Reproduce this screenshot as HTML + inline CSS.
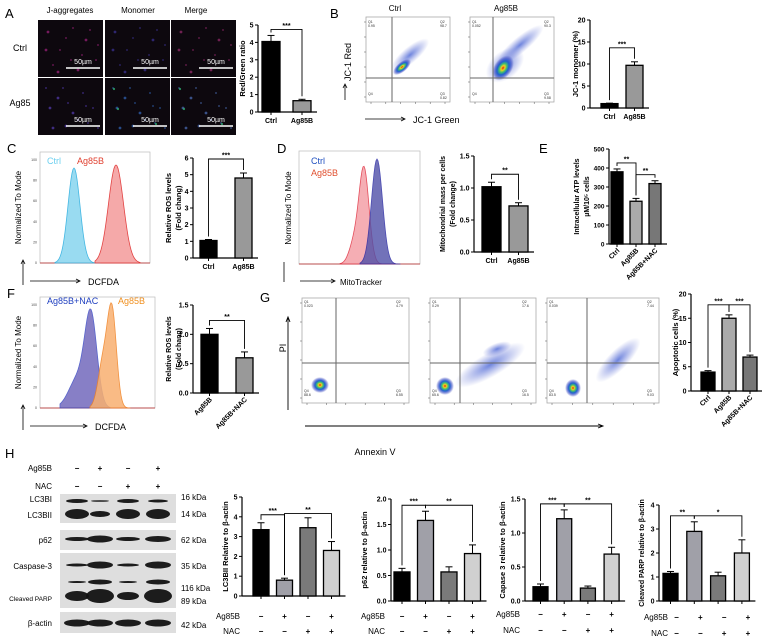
<!DOCTYPE html>
<html><head><meta charset="utf-8"><style>
html,body{margin:0;padding:0;background:#fff}
svg{display:block;font-family:"Liberation Sans",Arial,sans-serif}
</style></head><body>
<svg id="fig" width="762" height="640" viewBox="0 0 762 640" xmlns="http://www.w3.org/2000/svg">
<defs>
<radialGradient id="blobG" cx="50%" cy="50%" r="50%">
<stop offset="0" stop-color="#e02010"/><stop offset="0.18" stop-color="#f0d020"/><stop offset="0.35" stop-color="#40c070"/><stop offset="0.55" stop-color="#2060d0"/><stop offset="0.8" stop-color="#3040c0" stop-opacity="0.5"/><stop offset="1" stop-color="#4050c0" stop-opacity="0"/>
</radialGradient>
<radialGradient id="scatG" cx="50%" cy="50%" r="50%">
<stop offset="0" stop-color="#3050d0" stop-opacity="0.7"/><stop offset="1" stop-color="#5060d0" stop-opacity="0"/>
</radialGradient>
</defs>
<g id="root"></g>
</svg>
<script>
// ---------- data arrays ----------
const aCats=["Ctrl","Ag85B"], aVals=[4.05,0.65], aErrs=[0.35,0.08], aTicks=[0,1,2,3,4,5];
const bCats=["Ctrl","Ag85B"], bVals=[1.0,9.7], bErrs=[0.1,0.8], bTicks=[0,5,10,15,20];
const cCats=["Ctrl","Ag85B"], cVals=[1.05,4.8], cErrs=[0.06,0.3], cTicks=[0,1,2,3,4,5,6];
const dCats=["Ctrl","Ag85B"], dVals=[1.02,0.72], dErrs=[0.07,0.05], dTicks=[0,0.5,1.0,1.5];
const eCats=["Ctrl","Ag85B","Ag85B+NAC"], eVals=[380,225,318], eErrs=[15,15,15], eTicks=[0,100,200,300,400,500];
const fCats=["Ag85B","Ag85B+NAC"], fVals=[1.0,0.6], fErrs=[0.1,0.1], fTicks=[0,0.5,1.0,1.5];
const gCats=["Ctrl","Ag85B","Ag85B+NAC"], gVals=[3.9,15.0,7.0], gErrs=[0.3,0.7,0.4], gTicks=[0,5,10,15,20];
const h1Vals=[3.35,0.8,3.45,2.3], h1Errs=[0.35,0.1,0.5,0.45], h1Ticks=[0,1,2,3,4,5];
const h2Vals=[0.57,1.58,0.57,0.93], h2Errs=[0.07,0.18,0.1,0.17], h2Ticks=[0,0.5,1.0,1.5,2.0];
const h3Vals=[0.21,1.21,0.19,0.69], h3Errs=[0.04,0.13,0.03,0.1], h3Ticks=[0,0.5,1.0,1.5];
const h4Vals=[1.15,2.9,1.05,2.0], h4Errs=[0.08,0.4,0.15,0.55], h4Ticks=[0,1,2,3,4];
const hAg=["−","+","−","+"], hNac=["−","−","+","+"];

const NS="http://www.w3.org/2000/svg";
const root=document.getElementById('root');
function el(tag,attrs,parent,text){const e=document.createElementNS(NS,tag);for(const k in attrs)e.setAttribute(k,attrs[k]);if(text!==undefined)e.textContent=text;(parent||root).appendChild(e);return e;}
function txt(x,y,s,size,parent,extra){const t=el('text',Object.assign({x:x,y:y,'font-size':size,fill:'#000'},extra||{}),parent,s);return t;}
function grp(name){const g=el('g',{});return g;}

function barChart(o){
  const g=grp(o.name);
  const sy=v=>o.y0-(v/o.max)*(o.y0-o.yTop);
  const n=o.vals.length;
  const xEnd=o.x0+(n-1)*o.step+o.bw+6;
  el('line',{x1:o.ax,y1:o.y0,x2:o.ax,y2:o.yTop,stroke:'#000','stroke-width':1.2},g);
  el('line',{x1:o.ax,y1:o.y0,x2:xEnd,y2:o.y0,stroke:'#000','stroke-width':1.2},g);
  o.ticks.forEach(t=>{const y=sy(t);el('line',{x1:o.ax-3,y1:y,x2:o.ax,y2:y,stroke:'#000','stroke-width':1},g);
    txt(o.ax-4.5,y+2.5,o.fmt?o.fmt(t):String(t),o.tsize||7,g,{'text-anchor':'end','font-weight':'bold'});});
  o.vals.forEach((v,i)=>{
    const x=o.x0+i*o.step, cx=x+o.bw/2, yt=sy(v), ye=sy(v+o.errs[i]);
    const r=el('rect',{x:x,y:yt,width:o.bw,height:o.y0-yt,fill:o.colors[i],stroke:'#000','stroke-width':1.3},g);
    
    
    el('line',{x1:cx,y1:yt,x2:cx,y2:ye,stroke:'#000','stroke-width':1},g);
    el('line',{x1:cx-3.5,y1:ye,x2:cx+3.5,y2:ye,stroke:'#000','stroke-width':1},g);
    el('line',{x1:cx,y1:o.y0,x2:cx,y2:o.y0+3,stroke:'#000','stroke-width':1},g);
    if(o.cats){
      if(o.rot){txt(cx+3,o.y0+7,o.cats[i],7,g,{'text-anchor':'end','font-weight':'bold',transform:`rotate(-45 ${cx+3} ${o.y0+7})`});}
      else txt(cx,o.y0+11,o.cats[i],7,g,{'text-anchor':'middle','font-weight':'bold'});
    }
  });
  (o.sig||[]).forEach(s=>{
    const [i,j,lab,dy]=s;
    const ci=o.x0+i*o.step+o.bw/2, cj=o.x0+j*o.step+o.bw/2;
    const top=Math.min(sy(o.vals[i]+o.errs[i]),sy(o.vals[j]+o.errs[j]))-6-(dy||0);
    el('polyline',{points:`${ci},${sy(o.vals[i]+o.errs[i])-3} ${ci},${top} ${cj},${top} ${cj},${sy(o.vals[j]+o.errs[j])-3}`,fill:'none',stroke:'#000','stroke-width':0.9},g);
    txt((ci+cj)/2,top-1.5,lab,7,g,{'text-anchor':'middle','font-weight':'bold'});
  });
  if(o.ylab){
    const my=(o.y0+o.yTop)/2;
    o.ylab.forEach((l,k)=>{txt(o.ylx+k*10,my,l,o.ylsize||7.5,g,{'text-anchor':'middle','font-weight':'bold',transform:`rotate(-90 ${o.ylx+k*10} ${my})`});});
  }
  if(o.signs){
    const dx=o.signDx||0;
    o.signs.forEach((row,k)=>{
      const y=o.signY[k];
      txt(o.signLabelX,y,row[0],8,g,{'text-anchor':'end'});
      row[1].forEach((s,i)=>{txt(o.x0+i*o.step+o.bw/2+dx,y,s,8,g,{'text-anchor':'middle','font-weight':'bold'});});
    });
  }
  return g;
}

// panel letters
[["A",5,18],["B",330,18],["C",7,153],["D",277,153],["E",539,153],["F",7,298],["G",260,302],["H",5,458]].forEach(p=>{
  const t=txt(p[1],p[2],p[0],13,root,{});
});

// ---------- Panel A microscopy ----------
(function(){
  const g=grp('panel-a-images');
  txt(70,13,"J-aggregates",8,g,{'text-anchor':'middle'});
  txt(138,13,"Monomer",8,g,{'text-anchor':'middle'});
  txt(196,13,"Merge",8,g,{'text-anchor':'middle'});
  txt(20,51,"Ctrl",9,g,{'text-anchor':'middle'});
  txt(20,106,"Ag85",9,g,{'text-anchor':'middle'});
  const cols=[38,105,171], rows=[20,78];
  const dotsA=[[10,12],[22,30],[35,8],[48,20],[58,40],[15,45],[40,50],[28,18],[52,10],[8,30],[44,35],[60,25],[20,52],[33,40]];
  const dotsB=[[12,30],[25,10],[30,25],[35,35],[45,15],[50,45],[15,50],[40,42],[55,30],[20,20],[8,10],[60,50],[28,48],[48,28]];
  rows.forEach((ry,r)=>cols.forEach((cx,c)=>{
    el('rect',{x:cx,y:ry,width:65,height:57,fill:'#0d080e'},g);
    const pal = r==0 ? [['#9a2078','#3a3090','#902868'][c]] : [['#5038a8','#3060b0','#4868b0'][c]];
    (r==0?dotsA:dotsB).forEach((d,k)=>{
      el('circle',{cx:cx+d[0],cy:ry+d[1],r:(k%3==0?1.4:0.9),fill:pal[0],opacity:0.75},g);
      if(r==1&&c>0&&k%5==0) el('circle',{cx:cx+d[0]+1,cy:ry+d[1]+1,r:1.1,fill:'#30b070',opacity:0.8},g);
    });
    el('line',{x1:cx+28,y1:ry+48,x2:cx+62,y2:ry+48,stroke:'#fff','stroke-width':1.5},g);
    txt(cx+45,ry+44,"50µm",7,g,{'text-anchor':'middle',fill:'#fff'});
  }));
})();

barChart({name:'chart-a-red-green-ratio',ax:258,y0:112,yTop:25,max:5,ticks:aTicks,vals:aVals,errs:aErrs,cats:aCats,colors:['#000','#999'],x0:262,step:31,bw:18,sig:[[0,1,'***',0]],ylab:['Red/Green ratio'],ylx:245});

// ---------- flow cytometry helpers ----------
function flowPlot(name,x,y,w,h,vx,hy,blobs,qlabels){
  const g=grp(name);
  el('rect',{x:x,y:y,width:w,height:h,fill:'#fff',stroke:'#aaa','stroke-width':0.8},g);
  blobs.forEach(b=>{el('ellipse',{cx:b[0],cy:b[1],rx:b[2],ry:b[3],fill:b[5]||'url(#blobG)',transform:`rotate(${b[4]} ${b[0]} ${b[1]})`},g);});
  el('line',{x1:vx,y1:y,x2:vx,y2:y+h,stroke:'#666','stroke-width':1},g);
  el('line',{x1:x,y1:hy,x2:x+w,y2:hy,stroke:'#666','stroke-width':1},g);
  qlabels.forEach(q=>txt(q[0],q[1],q[2],3.5,g,{fill:'#333'}));
  for(let i=0;i<6;i++){el('line',{x1:x-2,y1:y+5+i*(h-10)/5,x2:x,y2:y+5+i*(h-10)/5,stroke:'#555','stroke-width':0.5},g);
    el('line',{x1:x+5+i*(w-10)/5,y1:y+h,x2:x+5+i*(w-10)/5,y2:y+h+2,stroke:'#555','stroke-width':0.5},g);}
  return g;
}
// Panel B
txt(395,11,"Ctrl",8,root,{'text-anchor':'middle'});
txt(506,11,"Ag85B",8,root,{'text-anchor':'middle'});
flowPlot('flow-b-ctrl',366,17,84,85,392,78,[[410,55,24,8,-40,'url(#scatG)'],[402,67,11,5,-40]],[[368,23,'Q1'],[368,27,'0.95'],[440,23,'Q2'],[440,27,'98.7'],[368,95,'Q4'],[440,95,'Q3'],[440,99,'0.82']]);
flowPlot('flow-b-ag85b',470,17,84,85,493,78,[[520,45,30,8,-40,'url(#scatG)'],[505,65,22,14,-40,'url(#scatG)'],[503,68,14,9,-55]],[[472,23,'Q1'],[472,27,'0.052'],[544,23,'Q2'],[544,27,'90.3'],[472,95,'Q4'],[544,95,'Q3'],[544,99,'9.58']]);
txt(351,62,"JC-1 Red",9,root,{'text-anchor':'middle',transform:'rotate(-90 351 62)'});
el('line',{x1:345,y1:100,x2:345,y2:85,stroke:'#000','stroke-width':0.8});el('polyline',{points:'343,88 345,84 347,88',fill:'none',stroke:'#000','stroke-width':0.8});
el('line',{x1:365,y1:119,x2:405,y2:119,stroke:'#000','stroke-width':0.8});el('polyline',{points:'401,117 405,119 401,121',fill:'none',stroke:'#000','stroke-width':0.8});
txt(413,123,"JC-1 Green",9,root,{});
barChart({name:'chart-b-jc1-monomer',ax:590,y0:108,yTop:20,max:20,ticks:bTicks,vals:bVals,errs:bErrs,cats:bCats,colors:['#000','#999'],x0:601,step:25,bw:17,sig:[[0,1,'***',8]],ylab:['JC-1 monomer (%)'],ylx:578});

// ---------- histogram helper ----------
function gaussPath(x0,x1,base,peaks){
  let d=`M${x0},${base}`;
  for(let x=x0;x<=x1;x+=1){let y=0;peaks.forEach(p=>{y+=p[2]*Math.exp(-Math.pow((x-p[0])/p[1],2)/2);});d+=` L${x},${base-y}`;}
  return d+` L${x1},${base} Z`;
}
function histAxes(name,x,top,w,base,xl,xlabX){
  const g=grp(name);
  el('rect',{x:x,y:top,width:w,height:base-top,fill:'none',stroke:'#bbb','stroke-width':0.7},g);
  el('line',{x1:x,y1:base,x2:x+w,y2:base,stroke:'#b02020','stroke-width':0.8},g);
  for(let i=0;i<6;i++){const yy=base-i*(base-top-8)/5;txt(x-3,yy+1,String(i*20),3.5,g,{'text-anchor':'end',fill:'#444'});}
  txt(21,(top+base)/2,"Normalized To Mode",8,g,{'text-anchor':'middle',transform:`rotate(-90 21 ${(top+base)/2})`});
  el('line',{x1:23,y1:base+22,x2:23,y2:base-2,stroke:'#000','stroke-width':0.8},g);
  el('polyline',{points:`21,${base+1} 23,${base-3} 25,${base+1}`,fill:'none',stroke:'#000','stroke-width':0.8},g);
  el('line',{x1:x-10,y1:base+18,x2:xlabX-8,y2:base+18,stroke:'#000','stroke-width':0.8},g);
  el('polyline',{points:`${xlabX-12},${base+16} ${xlabX-8},${base+18} ${xlabX-12},${base+20}`,fill:'none',stroke:'#000','stroke-width':0.8},g);
  txt(xlabX,base+22,xl,9,g,{});
  return g;
}
// Panel C
(function(){
  const g=histAxes('hist-c-dcfda',40,152,110,263,'DCFDA',88);
  el('path',{d:gaussPath(55,100,263,[[74,6,95]]),fill:'#8fd8f0',stroke:'#30b0e0','stroke-width':0.8,opacity:0.9},g);
  el('path',{d:gaussPath(95,140,263,[[116,7.5,98]]),fill:'#f4a0a0',stroke:'#e03030','stroke-width':0.8,opacity:0.9},g);
  txt(47,164,"Ctrl",9,g,{fill:'#6cd0f0'});txt(77,164,"Ag85B",9,g,{fill:'#e04030'});
})();
barChart({name:'chart-c-ros',ax:193,y0:258,yTop:158,max:6,ticks:cTicks,vals:cVals,errs:cErrs,cats:cCats,colors:['#000','#999'],x0:200,step:35,bw:17,sig:[[0,1,'***',8]],ylab:['Relative ROS levels','(Fold chang)'],ylx:171});
// Panel D
(function(){
  const g=grp('hist-d-mitotracker');
  const x=299,top=151,w=121,base=264;
  el('rect',{x:x,y:top,width:w,height:base-top,fill:'none',stroke:'#bbb','stroke-width':0.7},g);
  el('line',{x1:x,y1:base,x2:x+w,y2:base,stroke:'#b02020','stroke-width':0.8},g);
  el('path',{d:gaussPath(340,395,264,[[364,5,95],[354,5,20]]),fill:'#f4a0a8',stroke:'#e03040','stroke-width':0.8,opacity:0.85},g);
  el('path',{d:gaussPath(360,400,264,[[377,5.5,105]]),fill:'#5050a8',stroke:'#2020a0','stroke-width':0.8,opacity:0.8},g);
  txt(311,164,"Ctrl",9,g,{fill:'#2050c0'});txt(311,176,"Ag85B",9,g,{fill:'#e05030'});
  txt(291,208,"Normalized To Mode",8,g,{'text-anchor':'middle',transform:'rotate(-90 291 208)'});
  el('line',{x1:284,y1:282,x2:284,y2:262,stroke:'#000','stroke-width':0.8},g);
  el('line',{x1:300,y1:281,x2:335,y2:281,stroke:'#000','stroke-width':0.8},g);
  el('polyline',{points:'331,279 335,281 331,283',fill:'none',stroke:'#000','stroke-width':0.8},g);
  txt(340,285,"MitoTracker",8,g,{});
})();
barChart({name:'chart-d-mito-mass',ax:474,y0:252,yTop:156,max:1.5,ticks:dTicks,fmt:t=>t.toFixed(1),vals:dVals,errs:dErrs,cats:dCats,colors:['#000','#999'],x0:482,step:27,bw:19,sig:[[0,1,'**',2]],ylab:['Mitochondrial mass per cells','(Fold change)'],ylx:445,ylsize:7});
// Panel E
barChart({name:'chart-e-atp',ax:609,y0:244,yTop:149,max:500,ticks:eTicks,tsize:6.5,vals:eVals,errs:eErrs,cats:eCats,rot:true,colors:['#000','#aaa','#777'],x0:611,step:19,bw:12,sig:[[0,1,'**',0],[1,2,'**',0]],ylab:['Intracellular ATP levels','µM/10⁵ cells'],ylx:579,ylsize:7});
// Panel F
(function(){
  const g=histAxes('hist-f-dcfda',40,297,115,408,'DCFDA',95);
  el('path',{d:gaussPath(60,110,408,[[91,6,88],[78,9,30]]),fill:'#6a60b8',stroke:'#3040c0','stroke-width':0.8,opacity:0.8},g);
  el('path',{d:gaussPath(90,130,408,[[112,4.5,95],[103,5,45]]),fill:'#f8b070',stroke:'#f08020','stroke-width':0.8,opacity:0.85},g);
  txt(47,304,"Ag85B+NAC",9,g,{fill:'#2040c0'});txt(118,304,"Ag85B",9,g,{fill:'#f09020'});
})();
barChart({name:'chart-f-ros-nac',ax:193,y0:393,yTop:305,max:1.5,ticks:fTicks,fmt:t=>t.toFixed(1),vals:fVals,errs:fErrs,cats:fCats,rot:true,colors:['#000','#999'],x0:201,step:35,bw:17,sig:[[0,1,'**',2]],ylab:['Relative ROS levels','(Fold chang)'],ylx:171,ylsize:7});
// Panel G
flowPlot('flow-g-ctrl',302,298,107,105,336,363,[[320,385,9,8,0]],[[304,303,'Q1'],[304,307,'0.023'],[396,303,'Q2'],[396,307,'4.79'],[304,392,'Q4'],[304,396,'88.6'],[396,392,'Q3'],[396,396,'6.55']]);
flowPlot('flow-g-ag85b',430,298,106,105,460,363,[[490,365,40,12,-30,'url(#scatG)'],[497,349,15,6,-20,'url(#scatG)'],[445,386,9,9,0]],[[432,303,'Q1'],[432,307,'0.29'],[522,303,'Q2'],[522,307,'17.6'],[432,392,'Q4'],[432,396,'65.6'],[522,392,'Q3'],[522,396,'16.5']]);
flowPlot('flow-g-ag85b-nac',547,298,112,105,587,363,[[618,360,30,10,-45,'url(#scatG)'],[573,388,8,9,0]],[[549,303,'Q1'],[549,307,'0.039'],[647,303,'Q2'],[647,307,'7.44'],[549,392,'Q4'],[549,396,'83.5'],[647,392,'Q3'],[647,396,'9.03']]);
txt(286,348,"PI",9,root,{'text-anchor':'middle',transform:'rotate(-90 286 348)'});
el('line',{x1:288,y1:410,x2:288,y2:318,stroke:'#000','stroke-width':0.9});el('polyline',{points:'286,322 288,317 290,322',fill:'none',stroke:'#000','stroke-width':0.9});
el('line',{x1:305,y1:426,x2:603,y2:426,stroke:'#000','stroke-width':0.9});el('polyline',{points:'598,424 603,426 598,428',fill:'none',stroke:'#000','stroke-width':0.9});
txt(375,455,"Annexin V",9,root,{'text-anchor':'middle'});
barChart({name:'chart-g-apoptotic',ax:691,y0:391,yTop:294,max:20,ticks:gTicks,vals:gVals,errs:gErrs,cats:gCats,rot:true,colors:['#000','#aaa','#777'],x0:701,step:21,bw:14,sig:[[0,1,'***',4],[1,2,'***',4]],ylab:['Apoptotic cells (%)'],ylx:678});

// ---------- Panel H western blot ----------
(function(){
  const g=grp('western-blot');
  const lanes=[77,100,128,158];
  txt(52,471,"Ag85B",8,g,{'text-anchor':'end'});txt(52,489,"NAC",8,g,{'text-anchor':'end'});
  hAg.forEach((s,i)=>txt(lanes[i],471,s,8,g,{'text-anchor':'middle','font-weight':'bold'}));
  hNac.forEach((s,i)=>txt(lanes[i],489,s,8,g,{'text-anchor':'middle','font-weight':'bold'}));
  const boxes=[[494,523],[530,550],[553,577],[575,608],[612,633]];
  boxes.forEach(b=>el('rect',{x:60,y:b[0],width:116,height:b[1]-b[0],fill:'#dedede'},g));
  function band(y,ws,hs){lanes.forEach((lx,i)=>{if(ws[i]>0)el('ellipse',{cx:lx,cy:y,rx:ws[i],ry:hs[i],fill:'#111',opacity:0.95},g);});}
  band(501,[11,9,11,10],[2,0.8,2,1.5]);
  band(514,[12,10,12,12],[5,3,5,5]);
  band(539,[12,13,12,13],[2,3.5,2,3]);
  band(565,[11,13,11,13],[1.5,3.5,1.5,3.5]);
  band(582,[9,12,9,12],[1,2.5,1,2.5]);
  band(596,[12,14,11,14],[5,7,4,7]);
  band(623,[13,13,13,13],[3.5,3.5,3.5,3.5]);
  [["LC3BI",52,502],["LC3BII",52,518],["p62",52,543],["Caspase-3",52,569],["Cleaved PARP",52,601],["β-actin",52,626]].forEach(l=>txt(l[1],l[2],l[0],l[0]=="Cleaved PARP"?6.5:8,g,{'text-anchor':'end'}));
  [["16 kDa",500],["14 kDa",517],["62 kDa",543],["35 kDa",569],["116 kDa",591],["89 kDa",604],["42 kDa",628]].forEach(l=>txt(181,l[1],l[0],8,g,{}));
})();
const hCols=['#000','#a0a0a8','#7a7a7a','#d0d0d0'];
barChart({name:'chart-h-lc3bii',ax:242,y0:596,yTop:497,max:5,ticks:h1Ticks,vals:h1Vals,errs:h1Errs,colors:hCols,x0:253,step:23.5,bw:16,sig:[[0,1,'***',2],[1,3,'**',22]],ylab:['LC3BII Relative to β-actin'],ylx:228,signs:[['Ag85B',hAg],['NAC',hNac]],signY:[619,634],signLabelX:240});
barChart({name:'chart-h-p62',ax:391,y0:601,yTop:499,max:2,ticks:h2Ticks,fmt:t=>t.toFixed(1),vals:h2Vals,errs:h2Errs,colors:hCols,x0:394,step:23.5,bw:16,sig:[[0,1,'***',0],[1,3,'**',0]],ylab:['p62 relative to β-actin'],ylx:367,signs:[['Ag85B',hAg],['NAC',hNac]],signY:[619,634],signLabelX:385});
barChart({name:'chart-h-caspase3',ax:525,y0:601,yTop:499,max:1.5,ticks:h3Ticks,fmt:t=>t.toFixed(1),vals:h3Vals,errs:h3Errs,colors:hCols,x0:533,step:23.7,bw:15,sig:[[0,1,'***',0],[1,3,'**',0]],ylab:['Capase 3 relative to β-actin'],ylx:505,signs:[['Ag85B',hAg],['NAC',hNac]],signY:[617,633],signLabelX:520});
barChart({name:'chart-h-cleaved-parp',ax:659,y0:601,yTop:505,max:4,ticks:h4Ticks,vals:h4Vals,errs:h4Errs,colors:hCols,x0:663,step:23.8,bw:15,sig:[[0,1,'**',0],[1,3,'*',0]],ylab:['Cleaved PARP relative to β-actin'],ylx:644,ylsize:7,signs:[['Ag85B',hAg],['NAC',hNac]],signY:[620,636],signLabelX:668,signDx:6});
</script>
</body></html>
